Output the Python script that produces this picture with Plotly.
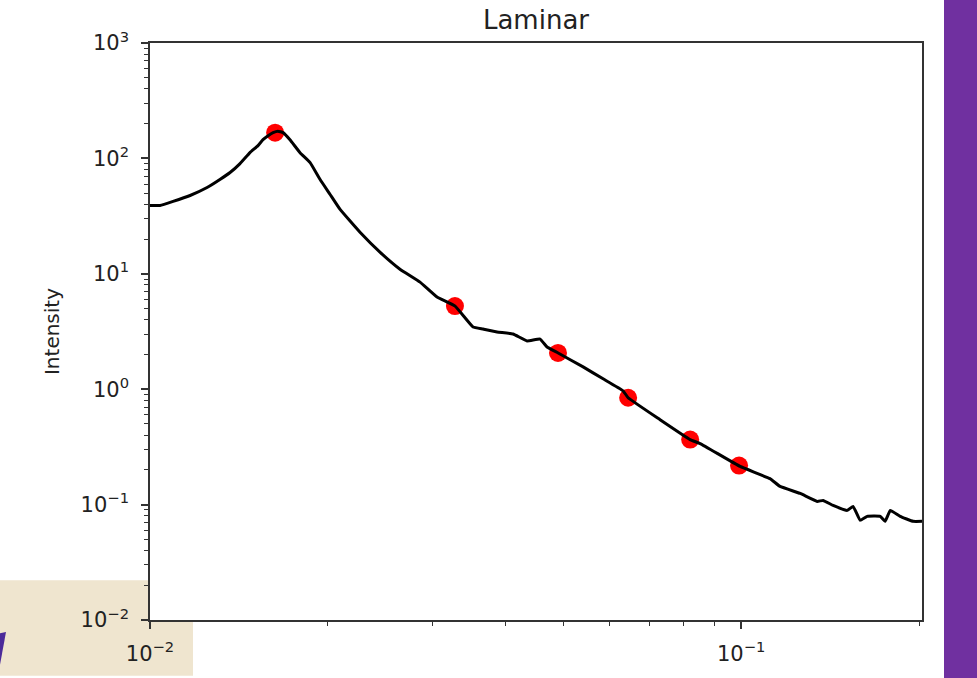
import plotly.graph_objects as go

# ---- data ----
q_line = [0.0100, 0.01040, 0.01094, 0.01169, 0.01249, 0.01313, 0.01366, 0.01420,
          0.01476, 0.01523, 0.01553, 0.01584, 0.01615, 0.01646, 0.01679, 0.01725,
          0.01794, 0.01866, 0.01940, 0.02017, 0.02097, 0.02266, 0.02449, 0.02648,
          0.02863, 0.03059, 0.03282, 0.03520, 0.03660, 0.03865, 0.04113, 0.04344,
          0.04570, 0.04696, 0.04903, 0.05404, 0.05841, 0.06314, 0.06439, 0.07293,
          0.08196, 0.08524, 0.09961, 0.1119, 0.1164, 0.1259, 0.1345, 0.1376,
          0.1431, 0.1512, 0.1547, 0.1590, 0.1634, 0.1719, 0.1752, 0.1788,
          0.1858, 0.1954, 0.2024]
I_line = [39.1, 39.1, 42.4, 47.7, 55.9, 65.6, 75.4, 90.2,
          112.2, 129.0, 145.3, 157.3, 167.3, 172.1, 167.3, 145.0,
          112.0, 92.0, 65.6, 48.7, 36.1, 22.9, 15.4, 10.96,
          8.46, 6.28, 5.25, 3.46, 3.32, 3.13, 3.01, 2.62,
          2.72, 2.32, 2.06, 1.56, 1.23, 0.969, 0.843, 0.544,
          0.366, 0.338, 0.214, 0.168, 0.1437, 0.1249, 0.1066, 0.1087,
          0.0984, 0.0891, 0.0965, 0.0730, 0.0791, 0.0791, 0.0716, 0.0891,
          0.0791, 0.0716, 0.0716]

q_pts = [0.01628, 0.0328, 0.0490, 0.0644, 0.0820, 0.0992]
I_pts = [167, 5.25, 2.06, 0.843, 0.366, 0.218]

y_tickvals = [1e-2, 1e-1, 1e0, 1e1, 1e2, 1e3]
y_ticktext = ["10<sup>\u22122</sup>", "10<sup>\u22121</sup>", "10<sup>0</sup>",
              "10<sup>1</sup>", "10<sup>2</sup>", "10<sup>3</sup>"]
x_tickvals = [1e-2, 1e-1]
x_ticktext = ["10<sup>\u22122</sup>", "10<sup>\u22121</sup>"]

y_minor = [m * 10 ** k for k in range(-2, 3) for m in range(2, 10)]
x_minor = [m * 10 ** k for k in range(-2, 0) for m in range(2, 10)]

# ---- layout geometry (pixels) ----
W, H = 977, 678
L, R, T, B = 150, 922, 43, 622


def px(x):
    return (x - L) / (R - L)


def py(y):
    return (B - y) / (B - T)


fig = go.Figure()
fig.add_trace(go.Scatter(x=q_pts, y=I_pts, mode="markers",
                         marker=dict(color="#ff0000", size=18, line=dict(width=0)),
                         showlegend=False, hoverinfo="skip"))
fig.add_trace(go.Scatter(x=q_line, y=I_line, mode="lines",
                         line=dict(color="#000000", width=3, shape="spline", smoothing=0.3),
                         showlegend=False))

axis_common = dict(
    type="log", showgrid=False, zeroline=False,
    showline=True, linecolor="#333333", linewidth=1.6, mirror=True,
    ticks="outside", ticklen=7, tickwidth=1.5, tickcolor="#333333",
    tickfont=dict(family="DejaVu Sans", size=21, color="#222222"),
)

fig.update_xaxes(**axis_common, range=[-2, -0.694],
                 tickvals=x_tickvals, ticktext=x_ticktext, ticklabelstandoff=7,
                 minor=dict(tickvals=x_minor, ticks="outside", ticklen=4,
                            tickwidth=1.2, tickcolor="#333333", showgrid=False))
fig.update_yaxes(**axis_common, range=[-2, 3],
                 tickvals=y_tickvals, ticktext=y_ticktext, ticklabelstandoff=8,
                 minor=dict(tickvals=y_minor, ticks="outside", ticklen=4,
                            tickwidth=1.2, tickcolor="#333333", showgrid=False),
                 title=dict(text="Intensity", standoff=16,
                            font=dict(family="DejaVu Sans", size=20, color="#222222")))

shapes = [
    # beige block bottom-left (split so the white plot area stays on top)
    dict(type="rect", xref="paper", yref="paper", x0=px(0), x1=px(L), y0=py(H), y1=py(582),
         fillcolor="#efe5cf", line=dict(width=0), layer="below"),
    dict(type="rect", xref="paper", yref="paper", x0=px(L), x1=px(193), y0=py(H), y1=py(B),
         fillcolor="#efe5cf", line=dict(width=0), layer="below"),
    # purple stroke fragment
    dict(type="path", xref="paper", yref="paper",
         path="M {} {} L {} {} L {} {} L {} {} Z".format(
             px(-4), py(636), px(6), py(634), px(-2), py(H), px(-12), py(H)),
         fillcolor="#4b2a9a", line=dict(width=0), layer="below"),
    # purple bar on the right
    dict(type="rect", xref="paper", yref="paper", x0=px(944), x1=px(W + 5), y0=py(H + 5), y1=py(-5),
         fillcolor="#7030a0", line=dict(width=0), layer="below"),
]

fig.update_layout(
    width=W, height=H,
    margin=dict(l=L, r=W - R, t=T, b=H - B, pad=0),
    paper_bgcolor="#ffffff", plot_bgcolor="#ffffff",
    title=dict(text="Laminar", x=0.5, xref="paper", xanchor="center",
               y=1 - 20 / H, yref="container", yanchor="middle",
               font=dict(family="DejaVu Sans", size=26, color="#222222")),
    shapes=shapes,
    showlegend=False,
)

fig.write_html("out.html", config={"displayModeBar": False},
               post_script="document.body.style.margin='0px';document.body.style.overflow='hidden';")
